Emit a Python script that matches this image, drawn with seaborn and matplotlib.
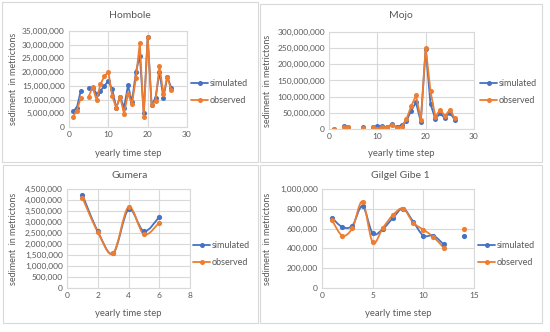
import numpy as np
import pandas as pd
import matplotlib
matplotlib.use('Agg')
import matplotlib.pyplot as plt
from matplotlib.path import Path
from matplotlib.patches import PathPatch, Rectangle
from matplotlib.lines import Line2D
from matplotlib.ticker import FuncFormatter, MultipleLocator
import seaborn as sns

nan = np.nan

# Hombole (values in tons), step 4 missing
hombole_x = list(range(1, 27))
hombole_sim = [5.7e6, 7.1e6, 13.2e6, nan, 14.1e6, 14.3e6, 12.2e6, 13.2e6, 15.0e6, 16.8e6,
               13.7e6, 7.0e6, 11.0e6, 7.1e6, 15.2e6, 9.1e6, 20.0e6, 26.0e6, 5.2e6, 32.9e6,
               7.9e6, 10.7e6, 20.0e6, 10.7e6, 18.3e6, 14.3e6]
hombole_obs = [3.8e6, 6.0e6, 10.7e6, nan, 11.1e6, 14.6e6, 9.8e6, 15.6e6, 18.5e6, 20.1e6,
               11.2e6, 7.0e6, 11.0e6, 4.8e6, 12.2e6, 8.3e6, 17.7e6, 30.7e6, 3.7e6, 32.9e6,
               7.9e6, 9.5e6, 22.3e6, 12.0e6, 18.3e6, 13.4e6]

# Mojo, steps 2, 5, 6, 8 missing
mojo_x = list(range(1, 27))
mojo_sim = [1e6, nan, 10e6, 6e6, nan, nan, 6e6, nan, 7e6, 8e6, 8e6, 5e6, 15e6, 5e6, 12e6,
            24e6, 57e6, 82e6, 22e6, 248e6, 77e6, 31e6, 48e6, 33e6, 51e6, 29e6]
mojo_obs = [0, nan, 7e6, 5e6, nan, nan, 4e6, nan, 6e6, 0, 5e6, 5e6, 12e6, 4e6, 7e6,
            30e6, 70e6, 104e6, 28e6, 252e6, 117e6, 38e6, 60e6, 40e6, 60e6, 34e6]

# Gumera
gumera_x = [1, 2, 3, 4, 5, 6]
gumera_sim = [4.23e6, 2.58e6, 1.57e6, 3.57e6, 2.58e6, 3.23e6]
gumera_obs = [4.1e6, 2.55e6, 1.57e6, 3.68e6, 2.44e6, 2.97e6]

# Gilgel Gibe 1, step 13 missing
gibe_x = list(range(1, 15))
gibe_sim = [708e3, 616e3, 630e3, 828e3, 552e3, 596e3, 707e3, 803e3, 670e3, 529e3,
            529e3, 441e3, nan, 530e3]
gibe_obs = [683e3, 529e3, 606e3, 872e3, 461e3, 606e3, 737e3, 803e3, 660e3, 589e3,
            515e3, 407e3, nan, 594e3]

series_names = ['simulated', 'observed']
colors = {'simulated': '#4472C4', 'observed': '#ED7D31'}
grey = '#595959'
grid = '#d9d9d9'

W, H = 550, 332


def long_frame(x, sim, obs):
    rows = []
    for name, vals in zip(series_names, [sim, obs]):
        seg = 0
        for xi, v in zip(x, vals):
            if np.isnan(v):
                seg += 1
                continue
            rows.append({'x': xi, 'value': v, 'series': name, 'seg': seg})
    return pd.DataFrame(rows)


def smooth_path(xs, ys):
    # Bezier curve through the points, like a spreadsheet "smoothed line"
    pts = np.column_stack([xs, ys])
    n = len(pts)
    verts = [pts[0]]
    codes = [Path.MOVETO]
    for i in range(n - 1):
        p0 = pts[i - 1] if i > 0 else pts[i]
        p1, p2 = pts[i], pts[i + 1]
        p3 = pts[i + 2] if i + 2 < n else pts[i + 1]
        verts += [p1 + (p2 - p0) / 6, p2 - (p3 - p1) / 6, p2]
        codes += [Path.CURVE4] * 3
    return Path(verts, codes)


def px_axes(fig, left, right, top, bottom):
    return fig.add_axes([left / W, 1 - bottom / H, (right - left) / W, (bottom - top) / H])


def style_axes(ax, xmax, xstep, ymax, ystep):
    ax.set_xlim(0, xmax)
    ax.set_ylim(0, ymax)
    ax.xaxis.set_major_locator(MultipleLocator(xstep))
    ax.yaxis.set_major_locator(MultipleLocator(ystep))
    ax.yaxis.set_major_formatter(FuncFormatter(lambda v, p: f'{v:,.0f}'))
    ax.grid(True, color=grid, linewidth=0.8)
    ax.set_axisbelow(True)
    for s in ax.spines.values():
        s.set_color(grid)
        s.set_linewidth(0.8)
    ax.tick_params(length=0, labelsize=6, colors=grey, pad=3)
    ax.set_xlabel('')
    ax.set_ylabel('')


def draw_straight(ax, x, sim, obs):
    df = long_frame(x, sim, obs)
    sns.lineplot(data=df, x='x', y='value', hue='series', units='seg', estimator=None,
                 hue_order=series_names, palette=colors, marker='o', markersize=3.6,
                 markeredgewidth=0, linewidth=1.3, legend=False, sort=False, ax=ax)


def draw_smooth(ax, x, sim, obs):
    df = long_frame(x, sim, obs)
    for name in series_names:
        sub = df[df['series'] == name]
        for _, part in sub.groupby('seg'):
            if len(part) > 1:
                ax.add_patch(PathPatch(smooth_path(part['x'].values, part['value'].values),
                                       fill=False, edgecolor=colors[name], linewidth=1.3))
        sns.scatterplot(data=sub, x='x', y='value', color=colors[name], s=14,
                        linewidth=0, legend=False, ax=ax, zorder=3)


def add_legend(fig, x_px, y_px):
    handles = [Line2D([0], [0], color=colors[n], marker='o', markersize=3.6,
                      markeredgewidth=0, linewidth=1.3) for n in series_names]
    fig.legend(handles, series_names, loc='center left',
               bbox_to_anchor=(x_px / W, 1 - y_px / H), frameon=False, fontsize=6.5,
               labelcolor=grey, handlelength=1.9, handletextpad=0.2, labelspacing=0.9,
               borderaxespad=0, borderpad=0)


sns.set_theme(style='white')
plt.rcParams['font.family'] = ['Lato', 'DejaVu Sans']

fig = plt.figure(figsize=(W / 100, H / 100), dpi=100)
fig.patch.set_facecolor('white')

for (l, t, r, b) in [(2, 2, 258, 162), (260, 4, 542, 162), (3, 165, 258, 323), (260, 165, 542, 323)]:
    fig.patches.append(Rectangle((l / W, 1 - b / H), (r - l) / W, (b - t) / H,
                                 transform=fig.transFigure, fill=False,
                                 edgecolor=grid, linewidth=0.8))

panels = [
    ('Hombole', hombole_x, hombole_sim, hombole_obs, False, (69, 187, 31, 127),
     (30, 10, 35e6, 5e6), (130, 16, 153), 14, (191, 92)),
    ('Mojo', mojo_x, mojo_sim, mojo_obs, False, (329, 474, 32, 129),
     (30, 10, 300e6, 50e6), (401, 16, 154), 268, (480, 92)),
    ('Gumera', gumera_x, gumera_sim, gumera_obs, True, (67, 190, 189, 288),
     (8, 2, 4.5e6, 0.5e6), (130, 176, 313), 14, (193, 254)),
    ('Gilgel Gibe 1', gibe_x, gibe_sim, gibe_obs, True, (322, 474, 189, 288),
     (15, 5, 1e6, 200e3), (400, 176, 313), 268, (478, 254)),
]

for title, x, sim, obs, smooth, box, lims, tpos, ylab_x, leg in panels:
    ax = px_axes(fig, *box)
    if smooth:
        draw_smooth(ax, x, sim, obs)
    else:
        draw_straight(ax, x, sim, obs)
    style_axes(ax, *lims)
    fig.text(tpos[0] / W, 1 - tpos[1] / H, title, ha='center', va='center',
             fontsize=7.5, color=grey)
    fig.text((box[0] + box[1]) / 2 / W, 1 - tpos[2] / H, 'yearly time step',
             ha='center', va='center', fontsize=6.8, color=grey)
    fig.text(ylab_x / W, 1 - (box[2] + box[3]) / 2 / H, 'sediment  in metrictons',
             ha='center', va='center', rotation=90, fontsize=6.5, color=grey)
    add_legend(fig, *leg)

fig.savefig('out.png', dpi=100, facecolor='white')
